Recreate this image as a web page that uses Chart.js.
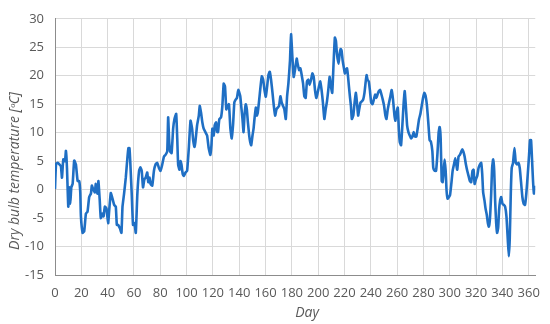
<!DOCTYPE html>
<html>
<head>
<meta charset="utf-8">
<script src="https://cdn.jsdelivr.net/npm/chart.js@4"></script>
<style>
  html, body { margin: 0; padding: 0; background: #fff; }
  #wrap { width: 550px; height: 324px; }
</style>
</head>
<body>
<div id="wrap"><canvas id="chart" width="550" height="324"></canvas></div>
<script>
// values (day of year, dry bulb temperature in degC)
var days = [0, 0.8, 2, 3.5, 4.5, 5.3, 6.3, 7.6, 8.3, 9.1, 10.1, 10.9, 11.6, 12.4, 13.4, 14.6, 15.9, 17.2, 18.4, 19.2,
  19.7, 21, 22.2, 23.5, 24.7, 26, 27.3, 28, 29, 30.3, 31, 32.3, 33, 34, 34.8, 36, 36.9, 37.9, 39.1, 40.4,
  41.2, 42.4, 43.7, 45, 46.2, 47, 48, 48.7, 49.5, 50.5, 51.3, 52.5, 53.8, 55, 55.8, 56.6, 57.3, 58.3, 59.3, 60.4,
  61.4, 62.6, 63.9, 64.9, 65.9, 66.9, 67.9, 68.9, 70.1, 70.9, 71.9, 72.6, 73.9, 75.2, 76.4, 77.7, 79, 80.2, 81.5, 82.8,
  84, 85.3, 86, 86.8, 87.5, 88.6, 89.8, 90.8, 92.1, 92.9, 93.6, 94.6, 95.4, 96.1, 97.1, 97.9, 99.2, 100.4, 101.7, 103,
  104.2, 105, 106, 106.7, 108, 109.3, 110, 111, 112, 113, 114.3, 115.6, 116.8, 118.1, 118.9, 119.6, 120.6, 121.4, 122.4, 123.2,
  123.9, 124.9, 126.2, 127.2, 128.2, 129.2, 130.2, 131.2, 132.2, 133.3, 134.3, 135.3, 136.3, 137.3, 138.3, 139.3, 140.8, 141.5, 142.5, 143.3,
  144, 145, 145.8, 146.6, 147.6, 148.3, 149.1, 150.1, 150.9, 151.6, 152.6, 153.4, 154.1, 155.2, 156.2, 157.2, 158.2, 159.2, 160.2, 161.2,
  162.2, 163.2, 164.2, 165.3, 166.3, 167.3, 168.3, 169.3, 170.3, 171.3, 172.3, 173.3, 174.3, 175.4, 176.4, 177.4, 178.6, 179.4, 180.4, 181.4,
  182.4, 183.7, 184.4, 185.5, 186.5, 187.5, 188.5, 189.5, 190.5, 191.5, 192.5, 193.5, 194.6, 195.6, 196.6, 197.6, 198.6, 199.6, 200.6, 201.6,
  202.6, 203.6, 204.7, 205.7, 206.7, 207.7, 208.7, 209.7, 210.7, 211.7, 212.7, 213.5, 214.3, 215.5, 216.3, 217.1, 217.8, 218.6, 219.6, 220.3,
  221.1, 221.9, 222.6, 223.4, 224.1, 224.9, 225.6, 226.7, 227.7, 228.7, 229.7, 230.4, 231.2, 232.2, 233.2, 234.2, 235.2, 236, 236.8, 237.5,
  238.5, 239.3, 240.3, 241.3, 242.3, 243.3, 244.3, 245.1, 246.1, 247.1, 248.1, 249.1, 250.1, 251.1, 251.9, 252.9, 253.9, 254.9, 255.9, 256.9,
  258, 258.7, 259.5, 260.5, 261.3, 262, 263, 264, 265, 265.8, 266.8, 267.6, 268.6, 269.6, 270.6, 271.6, 272.6, 273.6, 274.6, 275.6,
  276.7, 277.7, 278.7, 279.7, 280.7, 281.7, 282.7, 283.7, 284.7, 285.7, 286.8, 287.5, 288.6, 289.6, 290.6, 291.6, 292.3, 293.1, 293.9, 294.6,
  295.4, 296.1, 296.9, 297.6, 298.4, 299.4, 300.2, 301.2, 302.2, 303.2, 304.2, 305, 305.7, 306.7, 307.7, 308.8, 309.5, 310.3, 311.3, 312.3,
  313.3, 314.3, 315.3, 316.3, 317.3, 318.1, 318.9, 319.9, 320.9, 321.9, 322.9, 323.9, 324.7, 325.4, 326.4, 327.2, 328.2, 329, 329.7, 330.5,
  331.5, 332.2, 333, 333.8, 334.5, 335.3, 336, 336.8, 337.5, 338.3, 339.1, 340.1, 341.1, 342.1, 343.1, 344.1, 344.9, 345.6, 346.4, 347.1,
  348.1, 349.2, 350.2, 351.2, 352.2, 353.2, 354.2, 355.2, 356.2, 357.2, 358.2, 359.3, 360.3, 361, 361.8, 362.5, 363.3, 364, 364.8, 365];

var temps = [0.1, 4.5, 4.7, 4.4, 4.1, 2.1, 5.3, 5.0, 6.8, 3.8, -3.0, 0.4, -2.5, 0.4, 1.0, 5.1, 4.4, 1.5, 1.5, -0.5,
  -4.7, -7.6, -7.3, -4.2, -3.9, -1.3, -0.7, 0.7, 0.1, -0.5, 1.0, -0.7, 1.5, -1.9, -5.0, -4.2, -4.7, -3.0, -3.3, -5.9,
  -3.6, -0.6, -1.6, -2.7, -3.0, -6.2, -6.2, -6.5, -6.9, -7.6, -3.0, -0.7, 2.1, 5.5, 7.3, 7.3, 4.4, -0.7, -6.2, -5.9,
  -7.6, -0.7, 3.3, 3.9, 3.3, 0.4, 1.8, 2.1, 3.0, 1.3, 2.1, 1.0, 0.7, 3.3, 4.4, 4.7, 3.8, 3.3, 4.4, 5.8,
  6.1, 6.7, 12.7, 8.4, 6.7, 6.4, 10.7, 12.4, 13.3, 9.0, 4.4, 3.5, 5.0, 4.4, 2.7, 2.4, 3.0, 3.3, 7.3, 12.1,
  10.7, 8.7, 7.5, 8.4, 11.3, 13.0, 14.7, 13.5, 11.8, 10.7, 10.1, 9.5, 7.3, 6.1, 7.8, 10.7, 9.5, 11.3, 11.8, 10.1,
  10.1, 12.4, 12.7, 14.7, 18.6, 18.1, 14.1, 14.7, 15.0, 10.7, 9.0, 11.3, 15.3, 15.8, 16.1, 17.5, 16.4, 14.7, 12.4, 10.1,
  13.0, 15.0, 14.1, 11.8, 9.5, 8.4, 7.8, 9.5, 10.7, 12.4, 14.4, 13.0, 13.5, 15.8, 18.1, 19.9, 19.3, 17.5, 16.3, 18.1,
  20.1, 20.7, 19.3, 17.0, 14.7, 13.0, 14.1, 14.4, 14.7, 16.4, 15.3, 14.7, 14.1, 12.4, 16.4, 18.7, 22.7, 27.3, 23.3, 19.8,
  21.0, 23.0, 22.1, 21.0, 21.3, 20.1, 18.7, 16.4, 16.1, 19.0, 19.3, 18.4, 19.3, 20.4, 19.8, 17.5, 16.1, 17.0, 18.1, 19.0,
  17.5, 15.3, 12.4, 14.1, 15.5, 17.5, 19.8, 18.1, 17.0, 22.1, 26.7, 26.1, 23.8, 22.1, 23.8, 24.7, 24.4, 22.7, 21.3, 20.4,
  21.0, 21.3, 20.1, 18.1, 16.4, 14.7, 12.4, 13.0, 15.3, 17.0, 14.7, 13.0, 14.1, 15.3, 15.5, 15.8, 17.0, 18.7, 20.1, 19.3,
  19.0, 17.5, 15.3, 15.0, 15.8, 16.7, 16.1, 16.7, 17.3, 17.5, 16.7, 15.8, 14.7, 13.0, 12.4, 14.1, 15.3, 16.4, 17.5, 15.8,
  13.0, 12.1, 13.5, 14.4, 10.7, 8.4, 7.8, 11.3, 15.3, 17.3, 14.1, 11.3, 10.1, 9.5, 9.0, 9.3, 10.1, 9.3, 9.3, 10.7,
  12.4, 13.3, 14.7, 16.1, 17.0, 16.4, 14.7, 11.8, 8.7, 8.4, 6.7, 3.8, 3.3, 3.3, 6.1, 10.1, 11.0, 9.0, 1.5, 1.3,
  3.3, 5.3, 3.3, -0.2, -1.6, -1.3, -1.0, 1.0, 3.3, 4.4, 5.5, 4.4, 3.5, 5.8, 6.1, 6.7, 7.1, 6.7, 5.8, 4.4,
  3.3, 2.4, 1.5, 1.3, 3.3, 3.5, 1.0, 1.8, 2.4, 3.8, 4.4, 4.7, 2.7, -0.5, -1.9, -3.3, -4.5, -5.9, -6.5, -5.3,
  -0.7, 3.8, 5.3, 3.3, -1.9, -5.9, -7.6, -6.7, -3.6, -1.9, -1.3, -2.5, -2.7, -3.0, -4.7, -8.7, -11.7, -8.7, -0.7, 3.8,
  4.7, 7.3, 4.7, 4.4, 4.7, 3.8, 1.3, -1.3, -2.5, -2.7, -0.7, 2.7, 6.1, 8.7, 8.7, 5.5, 1.5, -0.7, 0.4, 0.7];

var yTicks = [-15, -10, -5, 0, 5, 10, 15, 20, 25, 30];
var xTicks = [0, 20, 40, 60, 80, 100, 120, 140, 160, 180, 200, 220, 240, 260, 280, 300, 320, 340, 360];
var xTitle = 'Day';
var yTitle = 'Dry bulb temperature [\u1D52C]';

var points = days.map(function (d, i) { return { x: d, y: temps[i] }; });

var axisFont = { family: 'Open Sans', size: 13 };
var textColor = '#595959';

// axis titles drawn where the reference has them
var axisTitles = {
  id: 'axisTitles',
  afterDraw: function (chart) {
    var ctx = chart.ctx;
    ctx.save();
    ctx.fillStyle = textColor;
    ctx.font = 'italic 14px "Open Sans"';
    ctx.textAlign = 'center';
    ctx.textBaseline = 'middle';
    ctx.fillText(xTitle, 307, 313);
    ctx.translate(15, 171);
    ctx.rotate(-Math.PI / 2);
    ctx.fillText(yTitle, 0, 0);
    ctx.restore();
  }
};

new Chart(document.getElementById('chart'), {
  type: 'line',
  data: {
    datasets: [{
      data: points,
      borderColor: '#1f6fc4',
      borderWidth: 2.6,
      pointRadius: 0,
      tension: 0.15,
      fill: false
    }]
  },
  options: {
    responsive: false,
    animation: false,
    layout: { padding: { left: 0, right: 12, top: 12, bottom: 0 } },
    plugins: { legend: { display: false }, tooltip: { enabled: false } },
    scales: {
      x: {
        type: 'linear',
        min: 0,
        max: 365,
        afterBuildTicks: function (scale) {
          scale.ticks = xTicks.map(function (v) { return { value: v }; });
        },
        afterFit: function (scale) { scale.height = 49; },
        grid: { color: '#d9d9d9', lineWidth: 1, drawTicks: false },
        border: { color: '#8c8c8c', width: 1 },
        ticks: { color: textColor, font: axisFont, padding: 10, maxRotation: 0, autoSkip: false }
      },
      y: {
        min: -15,
        max: 30,
        afterBuildTicks: function (scale) {
          scale.ticks = yTicks.map(function (v) { return { value: v }; });
        },
        afterFit: function (scale) { scale.width = 55; },
        grid: { color: '#d9d9d9', lineWidth: 1, drawTicks: false },
        border: { color: '#8c8c8c', width: 1 },
        ticks: { color: textColor, font: axisFont, padding: 11 }
      }
    }
  },
  plugins: [axisTitles]
});
</script>
</body>
</html>
